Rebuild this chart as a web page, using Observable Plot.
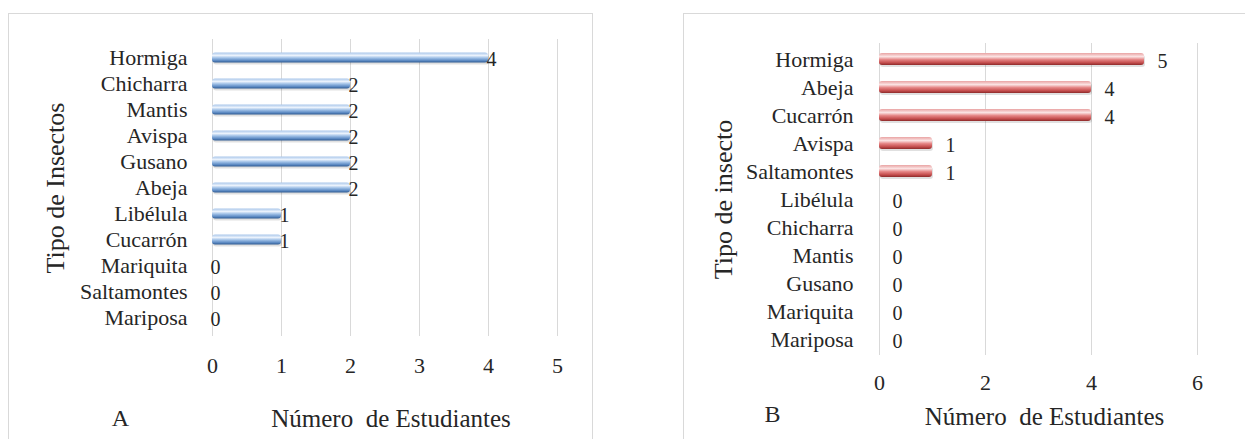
<!DOCTYPE html>
<html><head><meta charset="utf-8">
<script src="https://cdn.jsdelivr.net/npm/d3@7"></script>
<script src="https://cdn.jsdelivr.net/npm/@observablehq/plot@0.6"></script>
<style>
body{margin:0;background:#fff;}
#wrap{position:relative;width:1245px;height:439px;overflow:hidden;font-family:"Liberation Serif",serif;}
#wrap svg, #wrap svg text{font-family:"Liberation Serif",serif !important;}
.box{position:absolute;border:1px solid #d9d9d9;box-sizing:border-box;}
.chart{position:absolute;top:0;}
</style></head><body>
<div id="wrap">
 <div class="box" style="left:8px;top:13px;width:585px;height:460px"></div>
 <div class="box" style="left:683px;top:13px;width:600px;height:460px"></div>
 <div class="chart" id="a" style="left:0px"></div>
 <div class="chart" id="b" style="left:622px"></div>
</div>
<script>
const insectsA = ["Hormiga","Chicharra","Mantis","Avispa","Gusano","Abeja","Libélula","Cucarrón","Mariquita","Saltamontes","Mariposa"];
const studentsA = [4,2,2,2,2,2,1,1,0,0,0];
const ticksA = [0,1,2,3,4,5];
const insectsB = ["Hormiga","Abeja","Cucarrón","Avispa","Saltamontes","Libélula","Chicharra","Mantis","Gusano","Mariquita","Mariposa"];
const studentsB = [5,4,4,1,1,0,0,0,0,0,0];
const ticksB = [0,2,4,6];
const xTitle = "Número  de Estudiantes";
const yTitleA = "Tipo de Insectos";
const yTitleB = "Tipo de insecto";
const FF = "Liberation Serif";

function chart(o) {
  const data = o.cats.map((k, i) => ({k, v: o.vals[i]}));
  const svg = Plot.plot({
    width: o.width, height: 439,
    marginLeft: o.ml, marginRight: o.mr, marginTop: o.mt, marginBottom: o.mb,
    style: {fontFamily: FF, fontSize: "22px", color: "#262626", background: "transparent"},
    x: {domain: o.domain, ticks: o.ticks, tickSize: 0, tickPadding: o.xpad, label: null, tickFormat: d => String(d)},
    y: {domain: o.cats, padding: o.pad, tickSize: 0, tickPadding: o.ypad, label: null},
    marks: [
      Plot.ruleX(o.ticks, {stroke: "#d9d9d9", strokeWidth: 1}),
      Plot.barX(data, {x: "v", y: "k", fill: "#000", fillOpacity: 0.12, insetTop: o.inset, insetBottom: o.inset, dy: 2, dx: 1, rx: 3}),
      Plot.barX(data, {x: "v", y: "k", fill: `url(#${o.grad})`, insetTop: o.inset, insetBottom: o.inset, rx: 3}),
      Plot.text(data, {x: "v", y: "k", text: d => String(d.v), dx: o.vdx, dy: 2, textAnchor: "middle", fontSize: 20, fontFamily: FF, fill: "#262626"}),
      Plot.text([xTitle], {text: d => d, frameAnchor: "bottom", textAnchor: "middle", dx: 6, dy: o.tdy, lineAnchor: "middle", fontSize: 25, fontFamily: FF, fill: "#262626"}),
      Plot.text([o.letter], {text: d => d, frameAnchor: "bottom-left", textAnchor: "middle", dx: o.ldx, dy: o.ldy, lineAnchor: "middle", fontSize: 24, fontFamily: FF, fill: "#262626"}),
      Plot.text([o.ytitle], {text: d => d, frameAnchor: "left", textAnchor: "middle", rotate: -90, dx: o.ydx, lineAnchor: "middle", fontSize: 26, fontFamily: FF, fill: "#262626"})
    ]
  });
  const defs = d3.select(svg).insert("defs", ":first-child");
  const g = defs.append("linearGradient").attr("id", o.grad).attr("x1", 0).attr("y1", 0).attr("x2", 0).attr("y2", 1);
  o.stops.forEach(([off, c]) => g.append("stop").attr("offset", off).attr("stop-color", c));
  return svg;
}

document.getElementById("a").appendChild(chart({
  cats: insectsA, vals: studentsA, ticks: ticksA, domain: [0, 5],
  width: 622, ml: 212, mr: 65, mt: 39, mb: 103, pad: 0.04, inset: 7.5,
  xpad: 21, ypad: 25, vdx: 3, tdy: 82, letter: "A", ldx: -92, ldy: 82, ytitle: yTitleA, ydx: -157,
  grad: "gradA",
  stops: [[0, "#a9c6ea"], [0.3, "#eaf2fc"], [0.55, "#9dbfe6"], [0.8, "#5f8cc4"], [1, "#2e5a92"]]
}));
document.getElementById("b").appendChild(chart({
  cats: insectsB, vals: studentsB, ticks: ticksB, domain: [0, 6],
  width: 623, ml: 257, mr: 48, mt: 43, mb: 84, pad: 0.0, inset: 8,
  xpad: 19, ypad: 26, vdx: 18, tdy: 61, letter: "B", ldx: -107, ldy: 59, ytitle: yTitleB, ydx: -156,
  grad: "gradB",
  stops: [[0, "#e9a3a3"], [0.3, "#fbe3e3"], [0.55, "#e58585"], [0.8, "#c65050"], [1, "#8e2a2a"]]
}));
</script>
</body></html>
